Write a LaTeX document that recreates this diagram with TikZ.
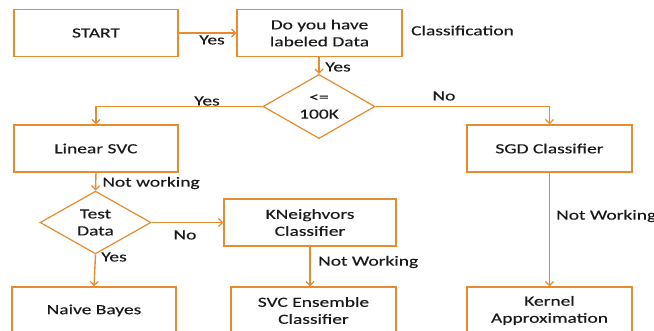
\documentclass[tikz,border=0pt]{standalone}
\usepackage{fontspec}
\setmainfont[FakeStretch=1.39,FakeBold=0.3]{Carlito}
\usetikzlibrary{shapes.geometric,arrows.meta}
\definecolor{org}{HTML}{E88A2E}
\definecolor{txt}{HTML}{1A1A1A}
\begin{document}
\begin{tikzpicture}[x=1pt,y=-1pt,
  every node/.style={font=\fontsize{14}{17}\selectfont, text=txt},
  box/.style={draw=org, line width=1.4pt, minimum width=#1, minimum height=47pt, inner sep=0pt, align=center},
  box/.default=164pt,
  dia/.style={draw=org, line width=1.2pt, diamond, inner sep=0pt, minimum width=112pt, minimum height=53pt, align=center},
  conn/.style={draw=org, line width=1.4pt, -{Straight Barb[length=4pt,width=8pt,line width=1.2pt]}},
  lbl/.style={inner sep=0pt}
]
\useasboundingbox (0,0) rectangle (654,331);
\clip (0,0) rectangle (654,331);
\node[box] (start) at (96,33) {START};
\node[box=165pt] (q) at (319.5,33) {Do you have\\labeled Data};
\node[lbl, anchor=west] (cls) at (411,30.5) {Classification};
\node[dia] (d1) at (319,106.5) {<=\\100K};
\node[box] (lin) at (96,148.5) {Linear SVC};
\node[box=165pt] (sgd) at (549.5,148.5) {SGD Classifier};
\node[dia, minimum width=111pt] (d2) at (95.5,222.5) {Test\\Data};
\node[box=172pt] (kn) at (310,222.5) {KNeighvors\\Classifier};
\node[box] (nb) at (94,310.5) {Naive Bayes};
\node[box=165pt] (svce) at (313.5,310.5) {SVC Ensemble\\Classifier};
\node[box=165pt] (ker) at (549.5,310.5) {Kernel\\Approximation};

\draw[conn] (start) -- (q);
\node[lbl] (l1) at (212,40) {Yes};
\draw[conn] (q.south -| d1.north) -- (d1.north);
\node[lbl] (l2) at (338,67) {Yes};
\coordinate (cl) at (lin.north |- d1.west);
\draw[conn] (d1.west) -- (cl) -- (lin.north);
\node[lbl] (l3) at (207,101) {Yes};
\coordinate (cr) at (sgd.north |- d1.east);
\draw[conn] (d1.east) -- (cr) -- (sgd.north);
\node[lbl] (l4) at (444,96) {No};
\draw[conn] (lin.south) -- (d2.north);
\node[lbl] (l5) at (151,183) {Not working};
\draw[conn] (d2.east) -- (kn.west);
\node[lbl] (l6) at (185,235) {No};
\draw[conn] (d2.south) -- (nb.north);
\node[lbl] (l7) at (114,257) {Yes};
\draw[conn] (kn.south) -- (kn.south |- svce.north);
\node[lbl, anchor=west] (l8) at (318,262) {Not Working};
\draw[conn] (sgd.south) -- (ker.north);
\node[lbl, anchor=west] (l9) at (556,216) {Not Working};
\end{tikzpicture}
\end{document}
